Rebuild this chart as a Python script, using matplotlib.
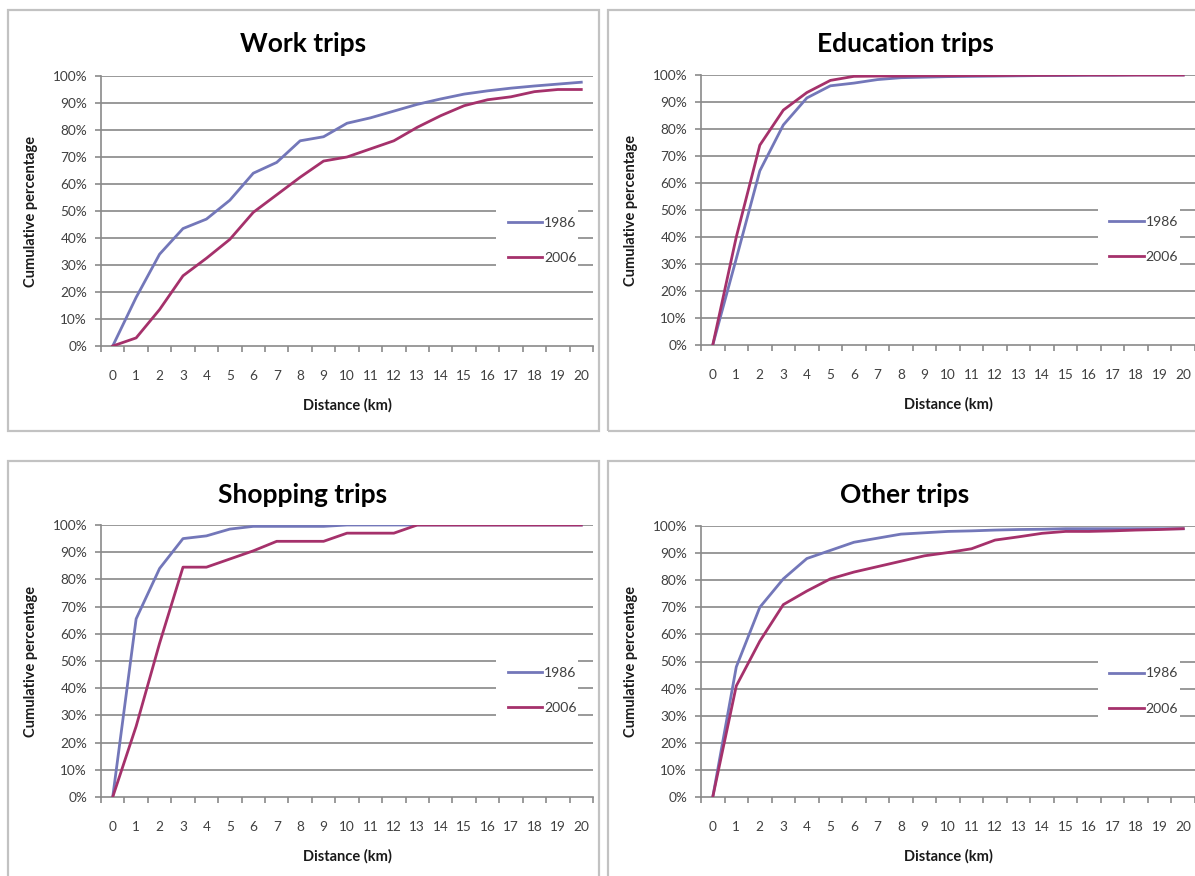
import matplotlib
matplotlib.use("Agg")
import matplotlib.pyplot as plt
from matplotlib.patches import Rectangle
from matplotlib.ticker import FixedLocator, FuncFormatter

# Distance bands (km) and cumulative share of trips (%) by trip purpose
distance = list(range(0, 21))
years = ["1986", "2006"]

work_1986 = [0, 18, 34, 43.5, 47, 54, 64, 68, 76, 77.5, 82.5, 84.5, 87, 89.5, 91.5, 93.3, 94.5, 95.5, 96.3, 97, 97.7]
work_2006 = [0, 3, 13.5, 26, 32.5, 39.5, 49.5, 56, 62.5, 68.5, 70, 73, 76, 81, 85.3, 89, 91.2, 92.3, 94.2, 95, 95]

edu_1986 = [0, 32, 64.5, 81.5, 91.5, 96, 97, 98.3, 99, 99.2, 99.4, 99.5, 99.6, 99.7, 99.8, 99.8, 99.9, 99.9, 100, 100, 100]
edu_2006 = [0, 40, 74, 87, 93.5, 98, 99.5, 99.6, 99.6, 99.7, 99.7, 99.8, 99.8, 99.9, 99.9, 100, 100, 100, 100, 100, 100]

shop_1986 = [0, 65.5, 84, 95, 96, 98.5, 99.5, 99.5, 99.5, 99.5, 100, 100, 100, 100, 100, 100, 100, 100, 100, 100, 100]
shop_2006 = [0, 26, 56.5, 84.5, 84.5, 87.5, 90.5, 94, 94, 94, 97, 97, 97, 100, 100, 100, 100, 100, 100, 100, 100]

other_1986 = [0, 48, 70, 80.5, 88, 91, 94, 95.5, 97, 97.5, 98, 98.2, 98.5, 98.7, 98.8, 99, 99, 99, 99, 99, 99]
other_2006 = [0, 41, 57.5, 71, 76, 80.5, 83, 85, 87, 89, 90.2, 91.6, 94.8, 96, 97.3, 98, 98, 98.2, 98.5, 98.7, 99]

titles = ["Work trips", "Education trips", "Shopping trips", "Other trips"]
series = [(work_1986, work_2006), (edu_1986, edu_2006),
          (shop_1986, shop_2006), (other_1986, other_2006)]

colors = ["#7377b9", "#a5316b"]
grid_c = "#999999"
FONT = "Lato"

W, H = 1195, 876
fig = plt.figure(figsize=(W / 100, H / 100), dpi=100)
fig.patch.set_facecolor("white")


def fx(px):
    return px / W


def fy(py):
    return 1 - py / H


# panel frames (x0, y0, x1, y1) in pixels, title centre, axes box
panels = [
    dict(frame=(8, 10, 599, 431), cx=303, ty=44, ax=(101, 76, 593, 346)),
    dict(frame=(608, 10, 1205, 431), cx=905, ty=44, ax=(701, 75, 1195, 345)),
    dict(frame=(8, 461, 599, 900), cx=303, ty=495, ax=(101, 525, 593, 797)),
    dict(frame=(608, 461, 1205, 900), cx=905, ty=495, ax=(701, 526, 1195, 797)),
]

for p, title, (s86, s06) in zip(panels, titles, series):
    x0, y0, x1, y1 = p["frame"]
    fig.add_artist(Rectangle((fx(x0), fy(y1)), fx(x1 - x0), (y1 - y0) / H,
                             transform=fig.transFigure, fill=False,
                             edgecolor="#c2c2c2", linewidth=1.6))

    ax0, ay0, ax1, ay1 = p["ax"]
    ax = fig.add_axes([fx(ax0), fy(ay1), fx(ax1 - ax0), (ay1 - ay0) / H])
    ax.set_facecolor("none")
    ax.set_xlim(-0.5, 20.5)
    ax.set_ylim(0, 100)

    for s in ("top", "right"):
        ax.spines[s].set_visible(False)
    for s in ("left", "bottom"):
        ax.spines[s].set_color("#8a8a8a")
        ax.spines[s].set_linewidth(1.2)

    ax.set_yticks(range(0, 101, 10))
    ax.yaxis.set_major_formatter(FuncFormatter(lambda v, pos: f"{int(v)}%"))
    ax.set_xticks(distance)
    ax.set_xticklabels([str(d) for d in distance])
    ax.xaxis.set_minor_locator(FixedLocator([d - 0.5 for d in distance] + [20.5]))
    ax.tick_params(axis="x", which="major", length=0, pad=17,
                   labelsize=9.8, labelcolor="#404040")
    ax.tick_params(axis="x", which="minor", length=4, width=1.2,
                   color="#8a8a8a", direction="out")
    ax.tick_params(axis="y", which="major", length=4, width=1.2,
                   color="#8a8a8a", pad=6, labelsize=9.8, labelcolor="#404040")
    for lab in ax.get_xticklabels() + ax.get_yticklabels():
        lab.set_fontfamily(FONT)

    for g in range(10, 101, 10):
        ax.axhline(g, color=grid_c, linewidth=1.4, zorder=1)

    for vals, c, yr in zip((s86, s06), colors, years):
        ax.plot(distance, vals, color=c, linewidth=2.0, label=yr, zorder=3,
                solid_joinstyle="round")

    # white legend area interrupting the gridlines
    ax.add_patch(Rectangle((0.803, 0.27), 0.166, 0.26, transform=ax.transAxes,
                           facecolor="white", edgecolor="none", zorder=2))
    leg = ax.legend(loc="upper left", bbox_to_anchor=(0.812, 0.504),
                    frameon=False, borderpad=0, handlelength=2.45,
                    handletextpad=0.15, labelspacing=1.66,
                    prop={"family": FONT, "size": 10.1})
    for t in leg.get_texts():
        t.set_color("#404040")
    leg.set_zorder(4)

    fig.text(fx(p["cx"]), fy(p["ty"]), title, ha="center", va="center",
             fontsize=19, fontweight="bold", family=FONT, color="black")
    fig.text(fx(ax0 - 70), fy((ay0 + ay1) / 2), "Cumulative percentage",
             rotation=90, ha="center", va="center", fontsize=10.5,
             fontweight="bold", family=FONT, color="#1a1a1a")
    fig.text(fx((ax0 + ax1) / 2), fy(ay1 + 59), "Distance (km)",
             ha="center", va="center", fontsize=10.5, fontweight="bold",
             family=FONT, color="#1a1a1a")

fig.savefig("out.png", dpi=100, facecolor="white")
